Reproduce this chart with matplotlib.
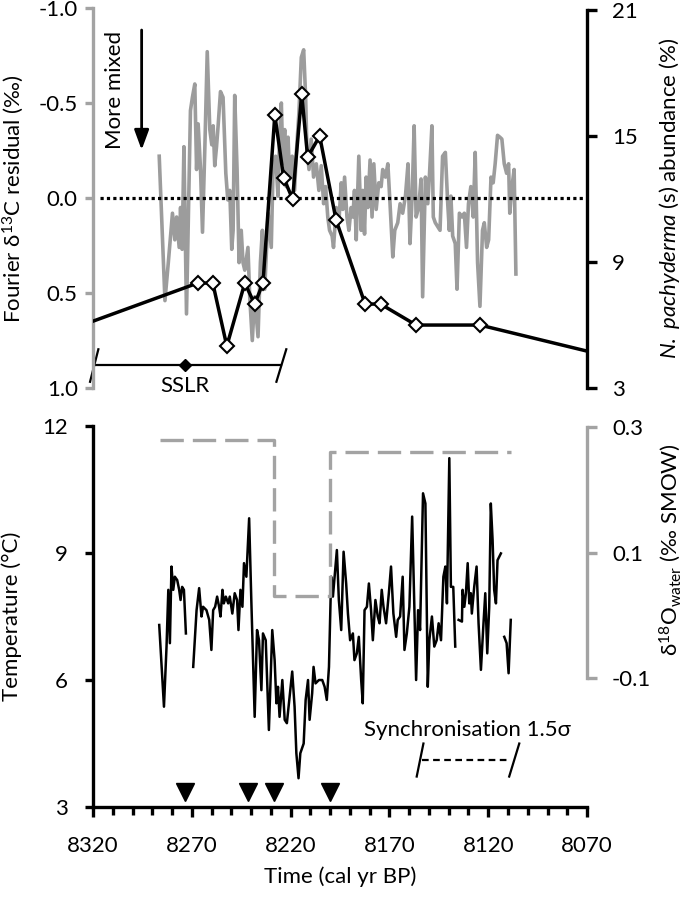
import numpy as np
import matplotlib
matplotlib.use("Agg")
import matplotlib.pyplot as plt
from matplotlib.ticker import FixedLocator, MultipleLocator, FormatStrFormatter

plt.rcParams['font.family'] = ['Lato', 'Open Sans', 'DejaVu Sans']
plt.rcParams['font.size'] = 16
plt.rcParams['mathtext.fontset'] = 'custom'
plt.rcParams['mathtext.rm'] = 'Lato'
plt.rcParams['mathtext.it'] = 'Lato:italic'
plt.rcParams['axes.unicode_minus'] = False

GREY = '#a3a3a3'
LINE_GREY = '#9c9c9c'

# -------------------------
# data: Fourier d13C residual (grey, top, left axis)
# -------------------------
fourier_years = [
    8286.5, 8283.6, 8281.9, 8279.8, 8278.6, 8277.7, 8276.4, 8275.7, 8274.9, 8274.0,
    8272.7, 8271.3, 8270.7, 8269.7, 8268.5, 8267.6, 8266.8, 8265.6, 8264.6, 8263.4,
    8262.2, 8260.9, 8259.9, 8259.2, 8258.4, 8257.5, 8256.7, 8255.5, 8254.2, 8252.8,
    8251.8, 8250.8, 8249.8, 8249.1, 8248.3, 8247.1, 8246.1, 8245.0, 8244.1,
    8243.2, 8241.6, 8240.7, 8239.4, 8238.2, 8236.5, 8235.3, 8234.3, 8233.1, 8231.4,
    8229.8, 8228.9, 8227.6, 8226.4, 8225.6, 8224.7, 8223.9, 8223.0, 8222.2, 8221.3,
    8220.5, 8219.2, 8218.0, 8217.1, 8215.8, 8214.6, 8213.4, 8212.4, 8211.8, 8210.7,
    8209.6, 8208.4, 8207.0, 8205.7, 8204.5, 8203.3, 8202.3, 8201.2, 8200.3, 8199.0,
    8198.3, 8196.9, 8195.6, 8194.4, 8193.6, 8192.7, 8191.5, 8190.5, 8189.4, 8188.5,
    8187.7, 8186.8, 8185.5, 8184.3, 8183.5, 8182.6, 8181.8, 8180.9, 8179.8, 8178.8,
    8177.9, 8176.7, 8175.4, 8174.2, 8173.4, 8172.0, 8170.8, 8169.7, 8168.3, 8167.3,
    8165.8, 8164.6, 8163.3, 8161.9, 8160.6, 8159.6, 8158.5, 8157.5, 8156.5, 8155.2,
    8154.0, 8153.2,
    8151.8, 8150.6, 8149.8, 8148.5, 8147.8, 8146.8, 8145.6, 8144.4, 8143.1, 8141.7,
    8140.5, 8139.7, 8138.9, 8138.0, 8136.7, 8135.8, 8134.6, 8133.3, 8132.1, 8131.0,
    8130.0, 8128.8, 8127.6, 8126.6, 8125.4, 8124.2, 8122.9, 8122.0, 8120.8, 8119.8,
    8118.6, 8117.5, 8116.5, 8115.3, 8114.1, 8113.1, 8111.9, 8110.7, 8109.7, 8109.1,
    8108.0, 8106.9, 8106.0]
fourier_values = [
    -0.22, 0.54, 0.34, 0.08, 0.22, 0.10, 0.26, 0.05, 0.27, -0.27,
    0.61, -0.15, -0.46, -0.53, -0.60, -0.15, -0.39, -0.15, 0.18, -0.27,
    -0.77, -0.36, -0.28, -0.38, -0.17, -0.27, -0.38, -0.56, -0.53, -0.13,
    0.01, -0.04, 0.27, 0.17, -0.54, -0.15, 0.34, 0.17, 0.34,
    0.38, 0.26, 0.52, 0.75, 0.52, 0.73, 0.34, 0.17, 0.48, 0.08,
    0.26, -0.15, -0.22, -0.01, -0.32, -0.50, -0.18, -0.36, -0.06, -0.32,
    -0.10, -0.22, -0.04, -0.24, -0.45, -0.74, -0.78, -0.53, -0.27, -0.15,
    -0.31, -0.11, -0.18, -0.04, -0.17, 0.03, -0.06, 0.10, 0.17, 0.20,
    0.26, 0.05, 0.13, -0.08, 0.06, -0.11, 0.10, 0.17, 0.05, 0.10,
    -0.04, 0.22, -0.22, 0.17, -0.04, 0.19, -0.11, 0.05, -0.20, 0.10,
    -0.18, 0.06, -0.08, -0.06, -0.15, -0.11, -0.18, 0.03, 0.31, 0.17,
    0.13, 0.03, 0.08, -0.01, -0.18, 0.24, -0.01, -0.38, 0.10, 0.05,
    -0.10, 0.52,
    -0.11, 0.03, -0.11, -0.38, 0.10, 0.13, 0.15, 0.17, -0.22, -0.24,
    0.03, 0.17, -0.01, 0.20, 0.24, 0.48, 0.08, 0.10, 0.08, 0.26,
    0.03, -0.06, 0.10, -0.24, 0.34, 0.57, 0.17, 0.13, 0.26, 0.22,
    -0.11, -0.08, -0.18, -0.33, -0.32, -0.31, -0.18, -0.13, -0.18, 0.08,
    -0.06, -0.15, 0.40]

# N. pachyderma (s) abundance (black diamonds, top, right axis)
pachy_years = [8340, 8267, 8259.4, 8252.3, 8243.2, 8238.2, 8234, 8228, 8223.5, 8219,
               8214.4, 8211.4, 8205.3, 8197, 8182.3, 8174.5, 8156.5, 8124.2, 8050]
pachy_values = [5.5, 8, 8, 5, 8, 7, 8, 16, 13, 12, 17, 14, 15, 11, 7, 7, 6, 6, 4.3]

# -------------------------
# data: temperature (black, bottom, left axis); nan = gap
# -------------------------
nan = np.nan
temp_years = [
    8286.5, 8284.1, 8282.8, 8281.9, 8281.1, 8280.3, 8279.4, 8278.6, 8277.4, 8276.4,
    8275.7, 8274.9, 8274.0, 8273.0, 8271.0,
    8269.3, 8267.6, 8266.3, 8265.1, 8264.3, 8262.6, 8261.2, 8260.1, 8259.2, 8258.2,
    8257.2, 8256.2, 8255.5, 8254.5, 8253.8, 8252.8, 8251.6, 8250.8, 8249.5, 8248.3,
    8247.1, 8246.4, 8245.4, 8244.4, 8243.6, 8242.4, 8241.0, 8239.9, 8238.2, 8237.0,
    8236.0, 8234.8, 8234.0, 8232.6, 8231.0, 8229.3, 8228.1, 8227.2, 8226.4, 8225.6,
    8224.2, 8223.0, 8221.9, 8220.5, 8219.2, 8218.0, 8217.1, 8216.0, 8215.1, 8213.4,
    8212.4, 8211.2, 8210.4, 8209.1, 8208.4, 8207.4, 8205.7, 8204.0, 8202.8, 8201.7,
    8200.6, 8199.5, 8198.6, 8197.9, 8196.6, 8195.6, 8194.4, 8193.2, 8191.9, 8191.0,
    8189.9, 8188.5, 8187.7, 8186.5, 8185.5, 8184.3, 8183.5, 8182.6, 8181.4, 8180.4,
    8179.3, 8178.4, 8177.1, 8175.9, 8175.0, 8173.9, 8173.0, 8171.7, 8170.3, 8169.2,
    8168.0, 8166.6, 8165.8, 8164.6, 8163.3, 8162.4, 8161.2, 8159.9, 8158.5, 8157.4,
    8156.5, 8155.5, 8154.5, 8153.0, 8151.8, 8150.6, 8149.8, 8148.5, 8147.3, 8146.1,
    8145.1, 8143.9, 8142.7, 8141.7, 8140.9, 8139.7, 8138.9, 8137.7, 8136.7, 8136.0,
    8135.0, 8133.3, 8133.0, 8132.1, 8131.3, 8130.4, 8129.6, 8128.8, 8128.3, 8127.1,
    8125.9, 8124.9, 8123.7, 8122.5, 8121.5, 8120.5, 8119.5, 8118.7, 8117.8, 8117.0,
    8116.1, 8115.3, 8113.6, 8112.8,
    8111.9, 8110.7, 8109.7, 8108.6]
temp_values = [
    7.30, 5.37, 6.79, 8.13, 6.87, 8.68, 8.13, 8.44, 8.36, 8.13,
    7.89, 8.20, 8.13, 7.10, nan,
    6.31, 7.65, 8.17, 7.50, 7.73, 7.65, 7.42, 6.71, 7.65, 7.73,
    7.97, 7.73, 7.50, 8.13, 7.81, 7.97, 7.81, 7.97, 7.57, 8.05,
    7.89, 7.18, 8.13, 7.73, 8.76, 8.44, 9.82, 7.89, 5.13, 7.18,
    6.94, 5.76, 7.10, 6.94, 4.82, 7.18, 6.47, 5.45, 5.84, 5.13,
    6.00, 5.06, 4.98, 5.61, 6.20, 5.37, 4.27, 3.68, 4.27, 4.50,
    5.53, 6.00, 5.06, 5.69, 6.31, 5.92, 6.00, 6.00, 5.84, 5.53,
    6.31, 8.44, 7.97, 8.36, 9.07, 7.89, 7.18, 9.03, 8.28, 7.57,
    6.94, 7.10, 6.47, 6.63, 7.02, 6.00, 5.45, 7.65, 7.73, 8.28,
    7.65, 6.94, 7.89, 7.50, 7.34, 8.13, 7.73, 7.34, 8.05, 8.68,
    7.57, 7.02, 7.42, 7.50, 8.44, 6.71, 7.10, 7.73, 9.86, 7.73,
    6.00, 7.65, 7.18, 10.41, 10.17, 5.84, 6.94, 7.50, 6.79, 6.94,
    7.34, 6.94, 8.44, 8.68, 7.81, 11.24, 8.20, 8.20, 6.79, nan,
    7.42, 7.38, 8.13, 7.73, 8.05, 8.76, 7.81, 8.05, 7.57, 8.20,
    8.68, 7.34, 6.24, 7.26, 8.05, 6.63, 7.73, 10.17, 9.31, 8.13,
    7.81, 8.83, 8.99, nan,
    7.02, 6.87, 6.16, 7.42]

# d18O water steps (grey dashed, bottom, right axis)
d18o_years = [8286, 8228.6, 8200.3, 8108.4]
d18o_values = [0.28, 0.03, 0.26, 0.26]

# tie points (triangles)
tie_years = [8273.5, 8241.7, 8228.6, 8200.3]

# x ticks
x_major = [8320, 8270, 8220, 8170, 8120, 8070]
x_minor = list(range(8070, 8321, 10))

fig = plt.figure(figsize=(6.85, 8.97), dpi=100)
ax1 = fig.add_axes([0.1358, 0.5674, 0.7212, 0.4237])
ax1r = ax1.twinx()
ax2 = fig.add_axes([0.1358, 0.1003, 0.7212, 0.4248])
ax2r = ax2.twinx()

# -------------------------
# top panel
# -------------------------
ax1.plot(fourier_years, fourier_values, color=LINE_GREY, lw=2.6, zorder=2)
ax1.hlines(0, 8316.5, 8070, colors='k', linestyles=(0, (1, 1)), lw=2.3, zorder=3)
ax1.set_xlim(8320, 8070)
ax1.set_ylim(1.0, -1.0)
ax1.set_yticks([-1.0, -0.5, 0.0, 0.5, 1.0])
ax1.yaxis.set_major_formatter(FormatStrFormatter('%.1f'))
for s in ['top', 'right', 'bottom']:
    ax1.spines[s].set_visible(False)
ax1.spines['left'].set_color(GREY)
ax1.spines['left'].set_linewidth(2.4)
ax1.tick_params(axis='y', color=GREY, width=2.4, length=6, pad=5, labelsize=16)
ax1.tick_params(axis='x', bottom=False, labelbottom=False)

ax1r.plot(pachy_years, pachy_values, color='k', lw=2.5, marker='D', ms=7.6,
          mfc='white', mec='k', mew=1.5)
ax1r.set_ylim(3, 21.1)
ax1r.set_yticks([3, 9, 15, 21])
for s in ['top', 'left', 'bottom']:
    ax1r.spines[s].set_visible(False)
ax1r.spines['right'].set_bounds(3, 21)
ax1r.spines['right'].set_linewidth(2.4)
ax1r.tick_params(axis='y', width=2.4, length=7, pad=11, labelsize=16)

# "More mixed" arrow
ax1.annotate('', xy=(8295.4, -0.253), xytext=(8295.4, -0.884),
             arrowprops=dict(arrowstyle='-|>,head_length=0.6,head_width=0.22',
                             color='k', lw=2, mutation_scale=20,
                             shrinkA=0, shrinkB=0))
ax1.text(8308.9, -0.568, 'More mixed', rotation=90, ha='center', va='center')

# SSLR bracket
ax1.plot([8318.6, 8224.7], [0.879, 0.879], color='k', lw=1.6, clip_on=False)
ax1.plot([8321.5, 8317.3], [0.967, 0.796], color='k', lw=1.6, clip_on=False)
ax1.plot([8227.2, 8222.2], [0.967, 0.796], color='k', lw=1.6, clip_on=False)
ax1.plot([8273.5], [0.879], marker='D', color='k', ms=6.5, clip_on=False)
ax1.text(8273.5, 0.99, 'SSLR', ha='center', va='center')

# -------------------------
# bottom panel
# -------------------------
ax2.plot(temp_years, temp_values, color='k', lw=1.8, zorder=3)
ax2.plot(tie_years, [3.35] * len(tie_years), 'v', color='k', ms=13, clip_on=False)
ax2.set_xlim(8320, 8070)
ax2.set_ylim(3, 12)
ax2.set_yticks([3, 6, 9, 12])
ax2.xaxis.set_major_locator(FixedLocator(x_major))
ax2.xaxis.set_minor_locator(FixedLocator(x_minor))
for s in ['top', 'right']:
    ax2.spines[s].set_visible(False)
ax2.spines['left'].set_linewidth(2.4)
ax2.spines['bottom'].set_linewidth(2.4)
ax2.tick_params(axis='y', width=2.4, length=6, pad=12, labelsize=16)
ax2.tick_params(axis='x', which='major', width=2.4, length=7, pad=14, labelsize=16)
ax2.tick_params(axis='x', which='minor', width=2.4, length=6)

ax2r.plot(d18o_years, d18o_values, color=GREY, lw=2.4, drawstyle='steps-post',
          linestyle=(0, (7, 2.7)), zorder=1)
ax2r.set_ylim(-0.306, 0.302)
ax2r.set_yticks([-0.1, 0.1, 0.3])
ax2r.yaxis.set_major_formatter(FormatStrFormatter('%.1f'))
for s in ['top', 'left', 'bottom']:
    ax2r.spines[s].set_visible(False)
ax2r.spines['right'].set_bounds(-0.1, 0.3)
ax2r.spines['right'].set_color(GREY)
ax2r.spines['right'].set_linewidth(2.4)
ax2r.tick_params(axis='y', color=GREY, width=2.4, length=7, pad=11, labelsize=16)

# Synchronisation bracket
ax2.plot([8153.3, 8109.4], [4.11, 4.11], color='k', lw=1.6, linestyle=(0, (3, 2)))
ax2.plot([8156.2, 8152.8], [3.72, 4.50], color='k', lw=1.6)
ax2.plot([8109.4, 8104.3], [3.72, 4.50], color='k', lw=1.6)
ax2.text(8130.4, 4.82, 'Synchronisation 1.5σ', ha='center', va='center')

# axis labels
fig.text(0.019, 0.779, 'Fourier δ$^{13}$C residual (‰)', rotation=90, ha='center', va='center')
fig.text(0.978, 0.779, r'$\mathit{N.\ pachyderma}$ (s) abundance (%)', rotation=90,
         ha='center', va='center')
fig.text(0.0175, 0.3133, 'Temperature (°C)', rotation=90, ha='center', va='center')
fig.text(0.978, 0.387, 'δ$^{18}$O$_{\\mathrm{water}}$ (‰ SMOW)', rotation=90,
         ha='center', va='center')
fig.text(0.496, 0.0223, 'Time (cal yr BP)', ha='center', va='center')

fig.savefig('out.png', dpi=100)
